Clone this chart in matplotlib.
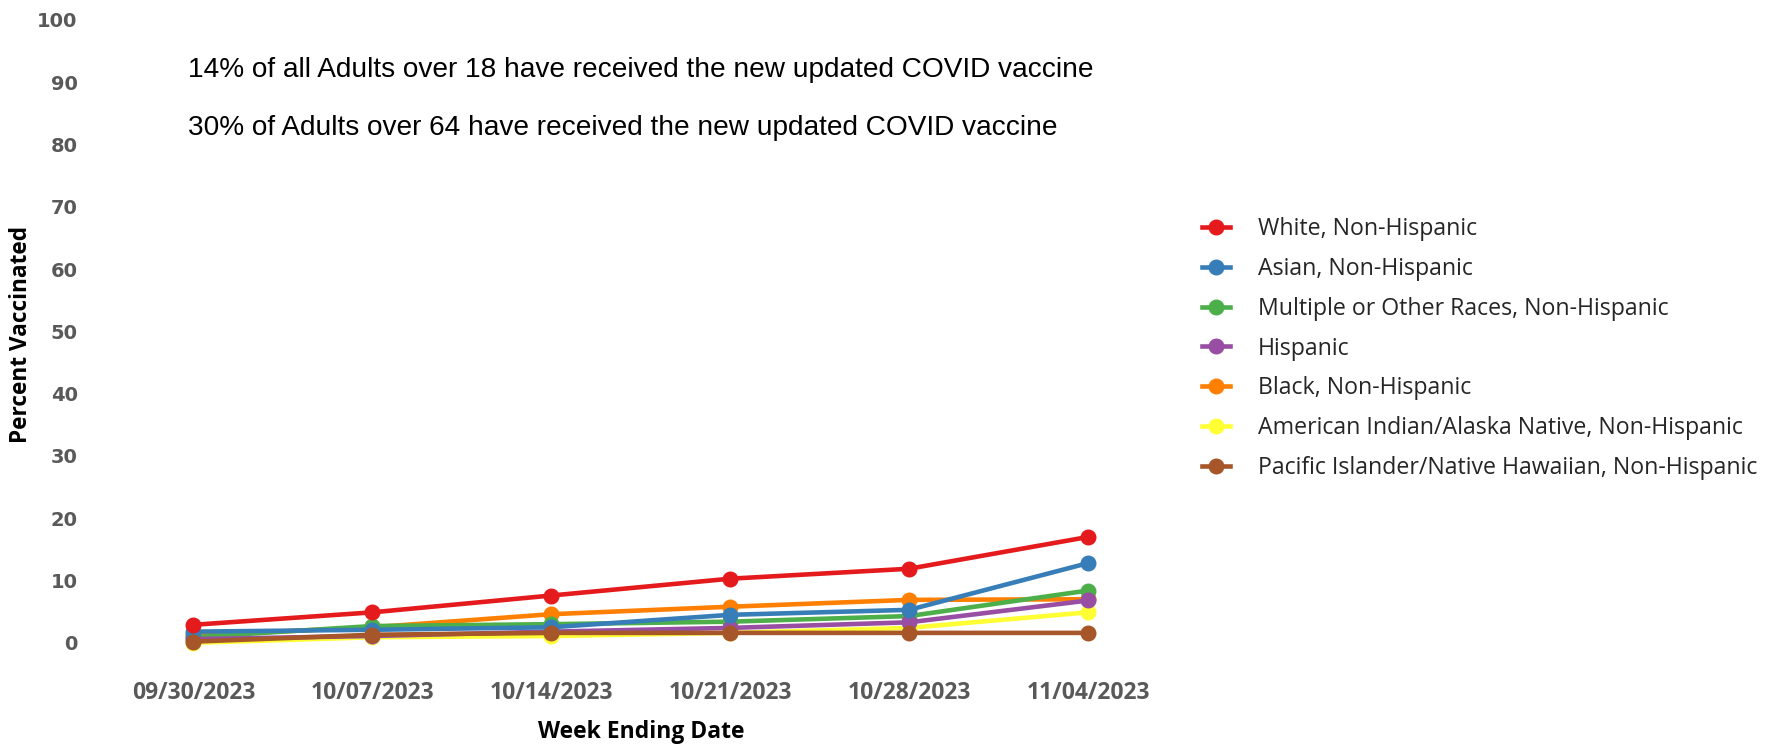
import matplotlib
matplotlib.use("Agg")
import matplotlib.pyplot as plt
from matplotlib.lines import Line2D

weeks = ["09/30/2023", "10/07/2023", "10/14/2023", "10/21/2023", "10/28/2023", "11/04/2023"]

groups = [
    "White, Non-Hispanic",
    "Asian, Non-Hispanic",
    "Multiple or Other Races, Non-Hispanic",
    "Hispanic",
    "Black, Non-Hispanic",
    "American Indian/Alaska Native, Non-Hispanic",
    "Pacific Islander/Native Hawaiian, Non-Hispanic",
]

white = [2.9, 4.9, 7.6, 10.3, 11.9, 17.0]
asian = [1.8, 2.1, 2.5, 4.5, 5.3, 12.8]
multiple = [0.9, 2.7, 3.0, 3.4, 4.3, 8.4]
hispanic = [0.6, 1.1, 1.8, 2.4, 3.3, 6.8]
black = [1.2, 2.5, 4.6, 5.8, 6.9, 7.0]
aian = [0.0, 0.9, 1.1, 1.6, 2.4, 4.9]
pacific = [0.2, 1.3, 1.6, 1.6, 1.6, 1.6]

series = [white, asian, multiple, hispanic, black, aian, pacific]
colors = ["#E41A1C", "#377EB8", "#4DAF4A", "#984EA3", "#FF7F00", "#FFFF33", "#A65628"]

notes = [
    "14% of all Adults over 18 have received the new updated COVID vaccine",
    "30% of Adults over 64 have received the new updated COVID vaccine",
]

W, H = 1785, 745
fig = plt.figure(figsize=(W / 100, H / 100), dpi=100)

# axes placed in pixel terms: x from 104 to 1177, y from 674 (bottom) to 7 (top)
left, right, bottom, top = 104, 1177.5, 674, 7.5
ax = fig.add_axes([left / W, 1 - bottom / H, (right - left) / W, (bottom - top) / H])
ax.set_xlim(-0.5, 5.5)
ax.set_ylim(-5, 102)

x = list(range(len(weeks)))
draw_order = [4, 5, 2, 3, 1, 6, 0]
for z, i in enumerate(draw_order):
    ax.plot(x, series[i], color=colors[i], lw=3.3, marker="o", ms=10.5,
            solid_capstyle="round", zorder=3 + z)

for s in ax.spines.values():
    s.set_visible(False)
ax.tick_params(length=0)
ax.set_yticks(range(0, 101, 10))
ax.set_yticklabels([str(v) for v in range(0, 101, 10)],
                   fontdict=dict(family="DejaVu Sans", weight="bold", size=14, color="#595959"))
ax.tick_params(axis="y", pad=19)
ax.set_xticks(x)
ax.set_xticklabels(weeks, fontdict=dict(family="Open Sans", weight="bold", size=16.5, color="#595959"))
ax.tick_params(axis="x", pad=5)

fig.text((193.5 + 1088) / 2 / W, 1 - 732 / H, "Week Ending Date", ha="center", va="center",
         fontsize=16.5, fontweight="bold", family="Open Sans")
fig.text(21 / W, 1 - 334 / H, "Percent Vaccinated", ha="center", va="center", rotation=90,
         fontsize=16.3, fontweight="bold", family="Open Sans")

fig.text(188 / W, 1 - 70 / H, notes[0], ha="left", va="center", fontsize=20.2, family="Liberation Sans")
fig.text(188 / W, 1 - 128 / H, notes[1], ha="left", va="center", fontsize=20.2, family="Liberation Sans")

handles = [Line2D([0], [0], color=c, lw=3.3, marker="o", ms=10.5) for c in colors]
leg = fig.legend(handles, groups, loc="upper left", bbox_to_anchor=(1193 / W, 1 - 208 / H),
                 frameon=False, prop=dict(family="Open Sans", size=16.7),
                 handlelength=1.2, handletextpad=1.2, labelspacing=0.68, borderaxespad=0)
for t in leg.get_texts():
    t.set_color("#262626")

fig.savefig("out.png", dpi=100)
